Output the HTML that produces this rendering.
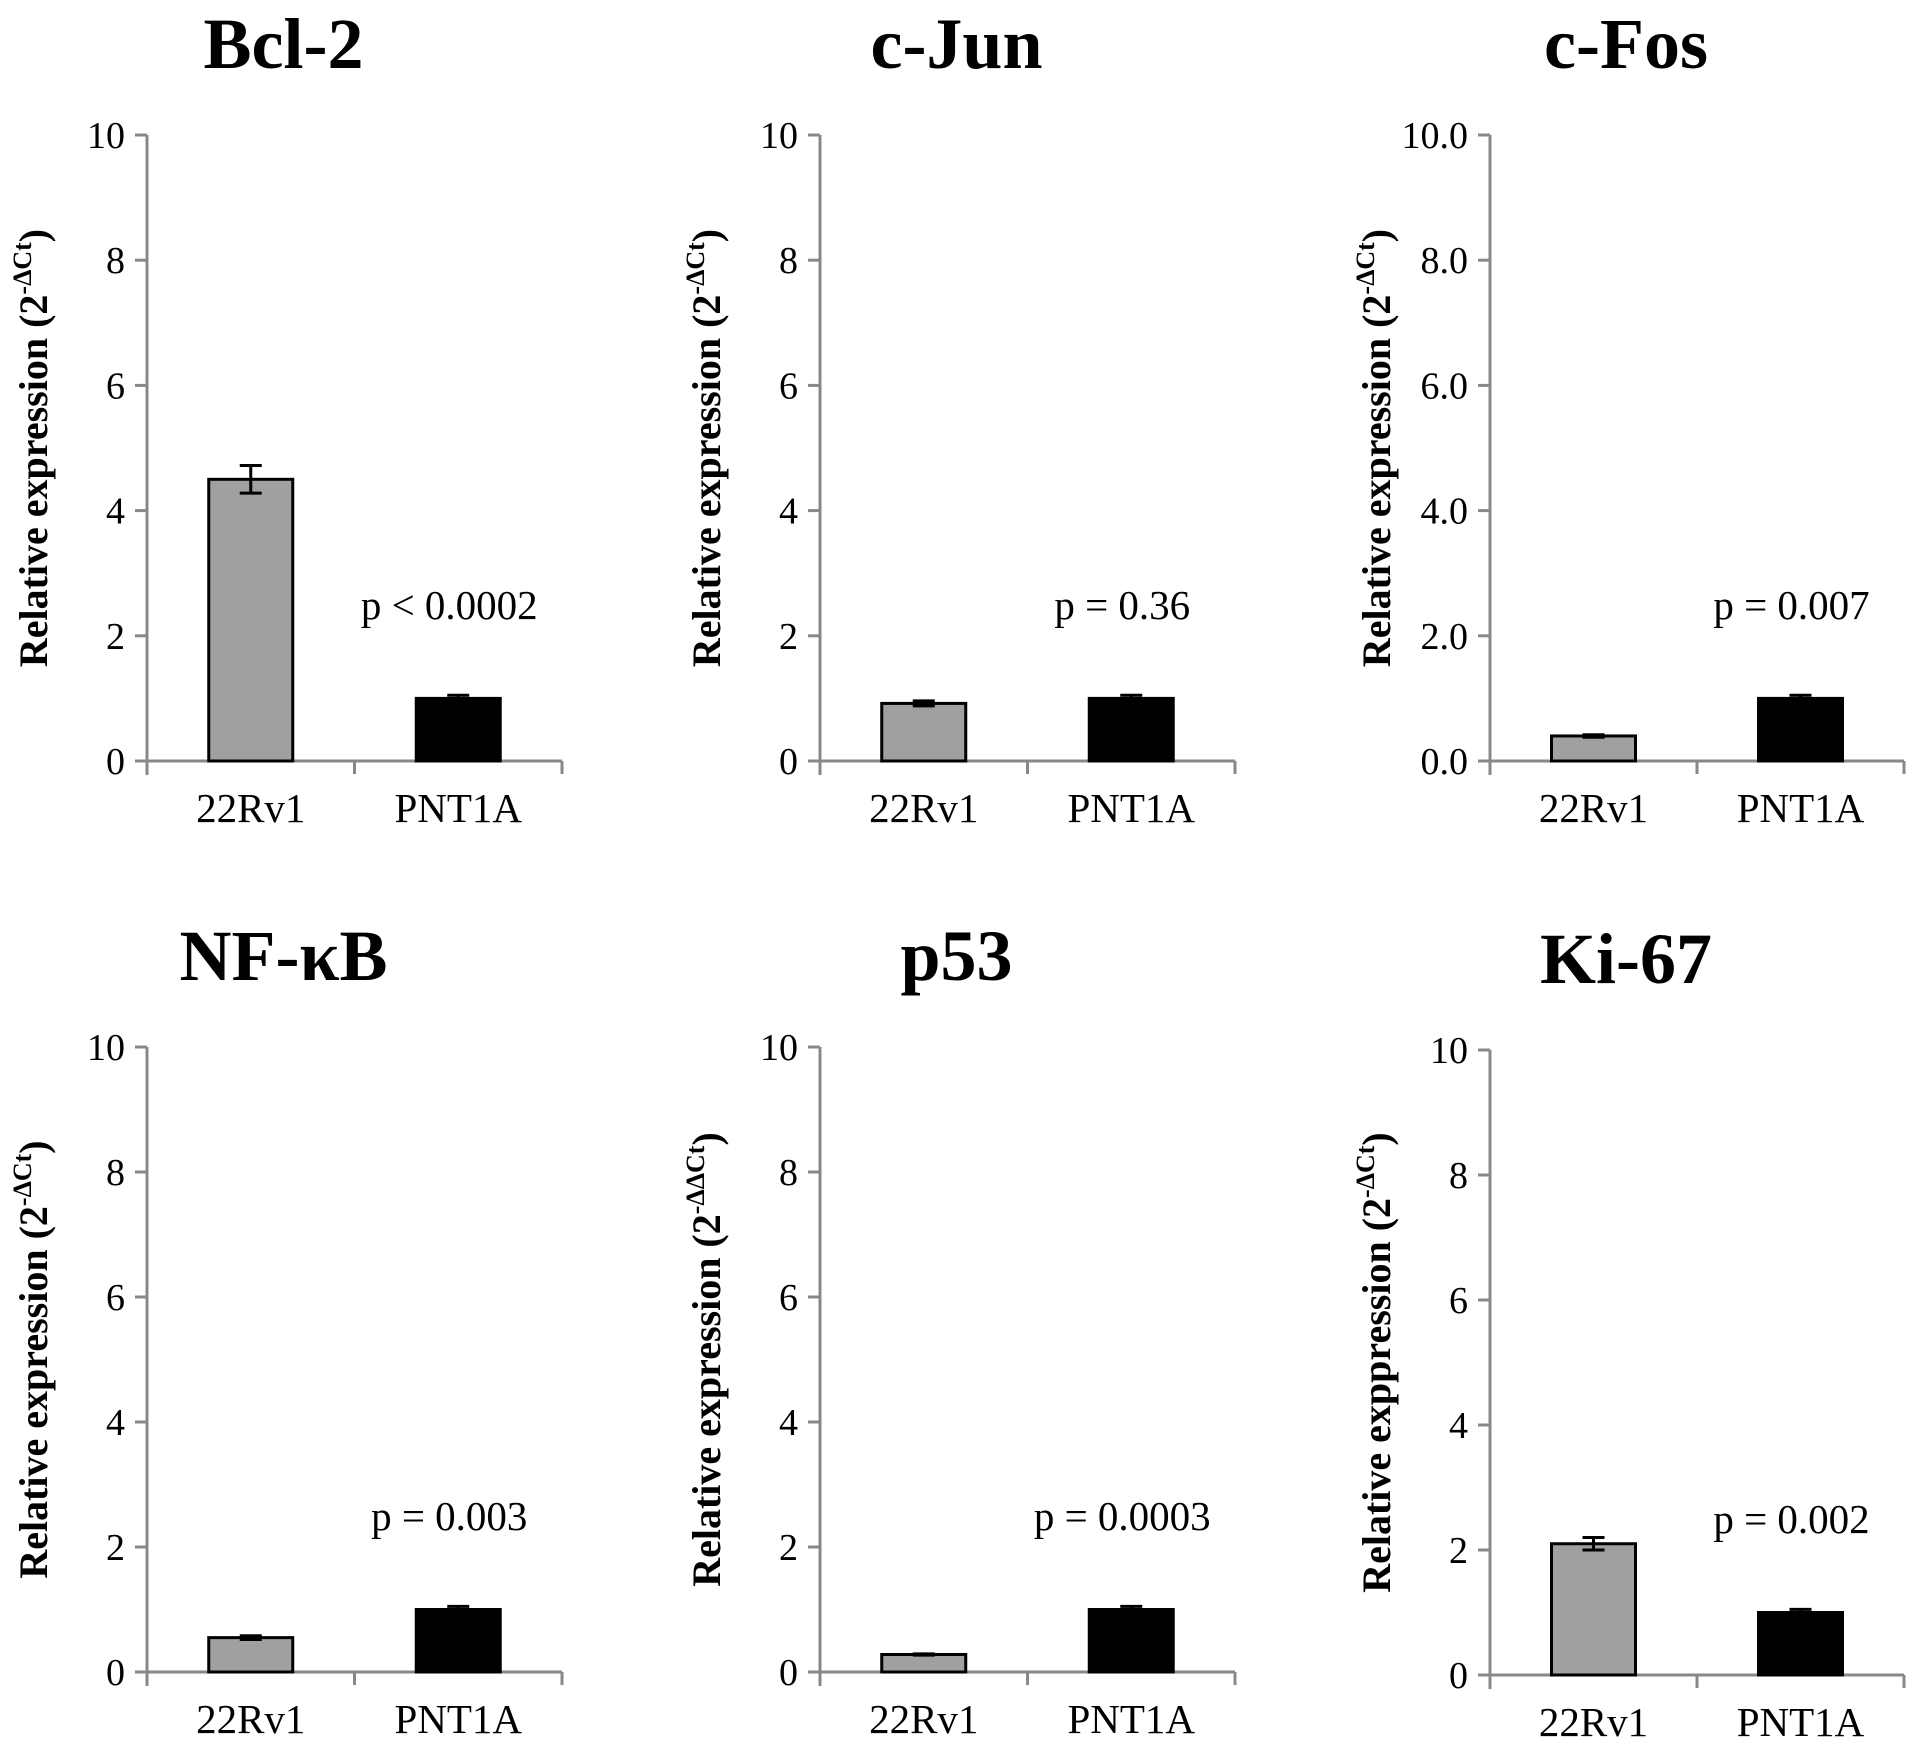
<!DOCTYPE html>
<html><head><meta charset="utf-8"><style>
html,body{margin:0;padding:0;background:#fff}
svg{display:block}
</style></head><body>
<svg id="fig" width="1925" height="1754" viewBox="0 0 1925 1754" xmlns="http://www.w3.org/2000/svg"></svg>
<script>
const titles = ["Bcl-2","c-Jun","c-Fos","NF-\u03BAB","p53","Ki-67"];
const categories = ["22Rv1","PNT1A"];
const values22Rv1 = [4.5,0.92,0.4,0.55,0.28,2.1];
const errors22Rv1 = [0.22,0.04,0.02,0.03,0.01,0.1];
const valuesPNT1A = [1.0,1.0,1.0,1.0,1.0,1.0];
const errorsPNT1A = [0.05,0.05,0.05,0.05,0.05,0.05];
const pValues = ["p < 0.0002","p = 0.36","p = 0.007","p = 0.003","p = 0.0003","p = 0.002"];
const yTicks = [0,2,4,6,8,10];
const yTickDecimals = [0,0,1,0,0,0];
const yLabelSup = ["-\u0394Ct","-\u0394Ct","-\u0394Ct","-\u0394Ct","-\u0394\u0394Ct","-\u0394Ct"];
const yLabelMain = ["Relative expression (2","Relative expression (2","Relative expression (2","Relative expression (2","Relative expression (2","Relative exppression (2"];

const NS="http://www.w3.org/2000/svg";
const svg=document.getElementById('fig');
function mk(tag,attrs,parent){const e=document.createElementNS(NS,tag);for(const k in attrs)e.setAttribute(k,attrs[k]);(parent||svg).appendChild(e);return e;}
const colX=[147,820,1490], colR=[562,1235,1904];
const rowTop=[135,1047], rowBot=[761,1672];
const TF='"Liberation Serif", "DejaVu Serif", serif';
for(let i=0;i<6;i++){
  const c=i%3, r=Math.floor(i/3);
  const x0=colX[c], x1=colR[c], yb=rowBot[r]+(i===5?3:0), yt=rowTop[r]+(i===5?3:0);
  const ymax=10;
  const y=v=>yb-(v/ymax)*(yb-yt);
  const g=mk('g',{});
  
  
  const cx=(x0+x1)/2;
  const t=mk('text',{x:cx-71,y:yt-67,'text-anchor':'middle','font-family':TF,'font-weight':'bold','font-size':72,fill:'#000'},g);
  t.textContent=titles[i];
  
  
  const ya=mk('line',{x1:x0,y1:yt,x2:x0,y2:yb+14,stroke:'#888','stroke-width':3},g);
  
  
  const xa=mk('line',{x1:x0-12,y1:yb,x2:x1,y2:yb,stroke:'#888','stroke-width':3},g);
  
  
  const bw=(x1-x0)/2;
  for(let k=1;k<=2;k++){ mk('line',{x1:x0+k*bw,y1:yb,x2:x0+k*bw,y2:yb+13,stroke:'#888','stroke-width':3},g); }
  yTicks.forEach(v=>{
    mk('line',{x1:x0-12,y1:y(v),x2:x0,y2:y(v),stroke:'#888','stroke-width':3},g);
    const tl=mk('text',{x:x0-22,y:y(v)+13,'text-anchor':'end','font-family':TF,'font-size':38,fill:'#000'},g);
    tl.textContent=v.toFixed(yTickDecimals[i]);
    
    
  });
  const yl=mk('text',{transform:`translate(${x0-100},${(yt+yb)/2}) rotate(-90)`,'text-anchor':'middle','font-family':TF,'font-weight':'bold','font-size':40,fill:'#000'},g);
  
  
  const s1=mk('tspan',{},yl); s1.textContent=yLabelMain[i];
  const s2=mk('tspan',{dy:-16,'font-size':26},yl); s2.textContent=yLabelSup[i];
  const s3=mk('tspan',{dy:16},yl); s3.textContent=')';
  const vals=[values22Rv1[i],valuesPNT1A[i]], errs=[errors22Rv1[i],errorsPNT1A[i]];
  const fills=['#a0a0a0','#000'];
  for(let k=0;k<2;k++){
    const bc=x0+bw*(k+0.5), w=84;
    const b=mk('rect',{x:bc-w/2,y:y(vals[k]),width:w,height:yb-y(vals[k]),fill:fills[k],stroke:'#000','stroke-width':3},g);
    
    
    const eh=y(vals[k]+errs[k]), el=y(vals[k]-errs[k]);
    const eb=mk('path',{d:`M${bc},${eh}V${el}M${bc-11},${eh}H${bc+11}M${bc-11},${el}H${bc+11}`,stroke:'#000','stroke-width':3,fill:'none'},g);
    
    
    const cl=mk('text',{x:bc,y:yb+61,'text-anchor':'middle','font-family':TF,'font-size':41,fill:'#000'},g);
    cl.textContent=categories[k];
    
    
  }
  const p=mk('text',{x:x0+bw*1.5-9,y:yb-142,'text-anchor':'middle','font-family':TF,'font-size':41,fill:'#000'},g);
  p.textContent=pValues[i];
  
  
}
</script>
</body></html>
